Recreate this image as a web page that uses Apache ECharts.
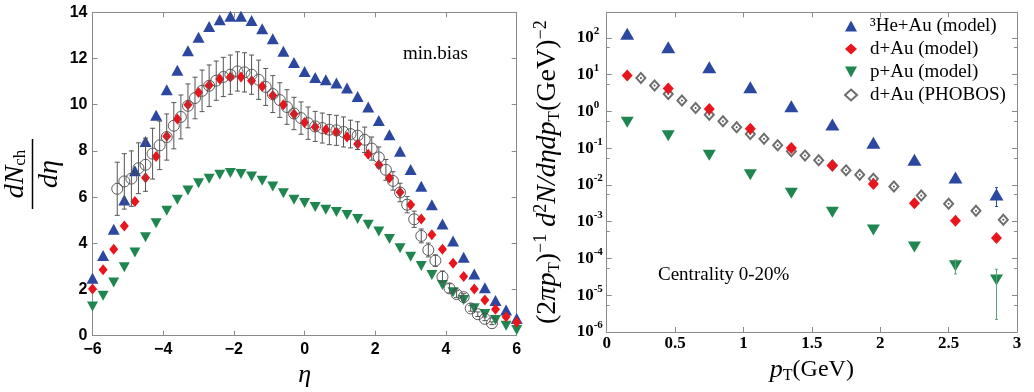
<!DOCTYPE html>
<html>
<head>
<meta charset="utf-8">
<script src="https://cdn.jsdelivr.net/npm/echarts@6/dist/echarts.min.js"></script>
<style>
  html, body { margin: 0; padding: 0; background: #fff; }
  #chart { width: 1034px; height: 392px; }
</style>
</head>
<body>
<div id="chart"></div>
<script>
// ---- left panel: dNch/deta vs eta (min. bias) ----
const etaModel = [-6.0, -5.7, -5.4, -5.1, -4.8, -4.5, -4.2, -3.9, -3.6, -3.3, -3.0, -2.7, -2.4, -2.1,
  -1.8, -1.5, -1.2, -0.9, -0.6, -0.3, 0.0, 0.3, 0.6, 0.9, 1.2, 1.5, 1.8, 2.1, 2.4, 2.7, 3.0, 3.3,
  3.6, 3.9, 4.2, 4.5, 4.8, 5.1, 5.4, 5.7, 6.0];
const heAuEta = [2.49, 3.47, 4.61, 5.87, 7.14, 8.41, 9.54, 10.65, 11.49, 12.34, 12.92, 13.39, 13.68, 13.83,
  13.83, 13.64, 13.29, 12.86, 12.31, 11.83, 11.44, 11.18, 11.08, 10.94, 10.72, 10.36, 9.9, 9.32, 8.7, 7.98,
  7.2, 6.47, 5.67, 4.84, 4.1, 3.4, 2.67, 2.08, 1.52, 1.11, 0.75];
const dAuEta = [2.02, 2.85, 3.74, 4.75, 5.81, 6.84, 7.76, 8.63, 9.38, 10.0, 10.53, 10.84, 11.11, 11.2,
  11.2, 11.04, 10.79, 10.4, 10.0, 9.6, 9.23, 9.03, 8.92, 8.82, 8.6, 8.3, 7.86, 7.4, 6.83, 6.21,
  5.67, 5.05, 4.37, 3.74, 3.14, 2.56, 2.02, 1.55, 1.14, 0.82, 0.58];
const pAuEta = [1.26, 1.73, 2.3, 2.96, 3.6, 4.26, 4.87, 5.41, 5.88, 6.29, 6.6, 6.79, 6.97, 7.04,
  7.0, 6.89, 6.71, 6.46, 6.17, 5.88, 5.74, 5.57, 5.45, 5.35, 5.23, 5.05, 4.8, 4.51, 4.19, 3.79,
  3.42, 3.02, 2.63, 2.2, 1.88, 1.55, 1.19, 0.94, 0.68, 0.43, 0.25];

const etaPhobos = [-5.3, -5.1, -4.9, -4.7, -4.5, -4.3, -4.1, -3.9, -3.7, -3.5, -3.3, -3.1, -2.9, -2.7,
  -2.5, -2.3, -2.1, -1.9, -1.7, -1.5, -1.3, -1.1, -0.9, -0.7, -0.5, -0.3, -0.1, 0.1, 0.3, 0.5, 0.7,
  0.9, 1.1, 1.3, 1.5, 1.7, 1.9, 2.1, 2.3, 2.5, 2.7, 2.9, 3.1, 3.3, 3.5, 3.7, 3.9, 4.1, 4.3, 4.5,
  4.7, 4.9, 5.1, 5.3];
const phobosEta = [6.36, 6.68, 6.8, 7.25, 7.4, 7.88, 8.24, 8.6, 9.09, 9.47, 9.95, 10.29, 10.6, 10.82,
  11.04, 11.2, 11.3, 11.44, 11.4, 11.3, 11.08, 10.77, 10.46, 10.2, 9.9, 9.62, 9.42, 9.2, 9.06, 8.99,
  8.92, 8.89, 8.82, 8.73, 8.66, 8.48, 8.1, 7.72, 7.18, 6.7, 6.2, 5.67, 5.04, 4.32, 3.71, 3.25, 2.55,
  2.05, 1.8, 1.67, 1.18, 0.93, 0.73, 0.54];
const phobosErr = [1.15, 1.2, 1.2, 1.1, 1.15, 1.1, 1.05, 1.0, 1.0, 0.95, 0.95, 0.9, 0.9, 0.9,
  0.85, 0.85, 0.85, 0.85, 0.85, 0.85, 0.85, 0.8, 0.8, 0.75, 0.75, 0.7, 0.7, 0.7, 0.65, 0.65,
  0.65, 0.65, 0.65, 0.6, 0.6, 0.55, 0.5, 0.45, 0.45, 0.4, 0.4, 0.35, 0.35, 0.3, 0.3, 0.25, 0.25,
  0.2, 0.15, 0.15, 0.12, 0.1, 0.08, 0.06];

// ---- right panel: invariant yield vs pT (centrality 0-20%) ----
const ptModel = [0.15, 0.45, 0.75, 1.05, 1.35, 1.65, 1.95, 2.25, 2.55, 2.85];
const heAuPt = [130, 56, 16, 4.6, 1.38, 0.44, 0.14, 0.049, 0.016, 0.0055];
const dAuPt = [9.5, 4.2, 1.17, 0.34, 0.102, 0.034, 0.0107, 0.0032, 0.00106, 0.00036];
const pAuPt = [0.51, 0.22, 0.064, 0.019, 0.006, 0.0018, 0.0006, 0.000204, 0.000063, 0.000026];
const ptPhobos = [0.25, 0.35, 0.45, 0.55, 0.65, 0.75, 0.85, 0.95, 1.05, 1.15, 1.25, 1.35, 1.45,
  1.55, 1.65, 1.75, 1.85, 1.95, 2.1, 2.3, 2.5, 2.7, 2.9];
const phobosPt = [8.2, 5.1, 3.0, 1.98, 1.25, 0.82, 0.54, 0.37, 0.245, 0.18, 0.12, 0.083, 0.063,
  0.047, 0.034, 0.025, 0.019, 0.0148, 0.0091, 0.0052, 0.0031, 0.002, 0.00113];
const heErrPt = [2.85];
const heErrLo = [0.0026];
const heErrHi = [0.0085];
const pErrPt = [2.55, 2.85];
const pErrLo = [0.000038, 0.0000022];
const pErrHi = [0.000091, 0.000051];

const legendNames = ['³He+Au (model)', 'd+Au (model)', 'p+Au (model)', 'd+Au (PHOBOS)'];

const BLUE = '#2b479f';
const RED = '#e8161c';
const GREEN = '#1f8650';
const FRAME = '#8a8a8a';
const SERIF = 'Liberation Serif';
const SANS = 'Liberation Sans';
const DOWN = 'path://M0,0L10,0L5,9Z';

const pairs = (xs, ys) => xs.map((x, i) => [x, ys[i]]);

function errorBars(color, cap) {
  return function (params, api) {
    const x = api.value(0);
    const lo = api.coord([x, api.value(1)]);
    const hi = api.coord([x, api.value(2)]);
    const style = { stroke: color, lineWidth: 1 };
    return {
      type: 'group',
      children: [
        { type: 'line', shape: { x1: lo[0], y1: lo[1], x2: hi[0], y2: hi[1] }, style },
        { type: 'line', shape: { x1: lo[0] - cap, y1: lo[1], x2: lo[0] + cap, y2: lo[1] }, style },
        { type: 'line', shape: { x1: hi[0] - cap, y1: hi[1], x2: hi[0] + cap, y2: hi[1] }, style }
      ]
    };
  };
}

const frameLine = { show: true, onZero: false, lineStyle: { color: FRAME, width: 1 } };
const tickIn = { show: true, inside: true, length: 5, lineStyle: { color: FRAME } };

const chart = echarts.init(document.getElementById('chart'));

chart.setOption({
  animation: false,
  backgroundColor: '#fff',
  grid: [
    { left: 92.5, top: 12.3, width: 424.2, height: 323.4, outerBoundsMode: 'none' },
    { left: 606.7, top: 12.3, width: 410.3, height: 319.7, outerBoundsMode: 'none' }
  ],
  xAxis: [
    {
      type: 'value', gridIndex: 0, min: -6, max: 6, interval: 2, position: 'bottom',
      axisLine: frameLine, axisTick: tickIn, splitLine: { show: false },
      axisLabel: {
        formatter: (v) => (v < 0 ? '\u2212' + (-v) : String(v)),
        fontFamily: SANS, fontWeight: 'bold', fontSize: 16, color: '#000', margin: 6
      },
      name: 'η', nameLocation: 'middle', nameGap: 16,
      nameTextStyle: { fontFamily: SERIF, fontStyle: 'italic', fontSize: 26, color: '#000' }
    },
    {
      type: 'value', gridIndex: 0, min: -6, max: 6, interval: 2, position: 'top',
      axisLine: frameLine, axisTick: tickIn, axisLabel: { show: false }, splitLine: { show: false }
    },
    {
      type: 'value', gridIndex: 1, min: 0, max: 3, interval: 0.5, position: 'bottom',
      axisLine: frameLine, axisTick: tickIn, splitLine: { show: false },
      axisLabel: { fontFamily: SERIF, fontWeight: 'bold', fontSize: 17, color: '#000', margin: 3 },
      name: '{i|p}{sb|T}{r|(GeV)}', nameLocation: 'middle', nameGap: 23,
      nameTextStyle: {
        rich: {
          i: { fontFamily: SERIF, fontStyle: 'italic', fontSize: 26, lineHeight: 28, color: '#000' },
          sb: { fontFamily: SERIF, fontSize: 16, lineHeight: 16, verticalAlign: 'bottom', color: '#000' },
          r: { fontFamily: SERIF, fontSize: 24, lineHeight: 28, color: '#000' }
        }
      }
    },
    {
      type: 'value', gridIndex: 1, min: 0, max: 3, interval: 0.5, position: 'top',
      axisLine: frameLine, axisTick: tickIn, axisLabel: { show: false }, splitLine: { show: false }
    }
  ],
  yAxis: [
    {
      type: 'value', gridIndex: 0, min: 0, max: 14, interval: 2, position: 'left',
      axisLine: frameLine, axisTick: tickIn, splitLine: { show: false },
      axisLabel: { fontFamily: SANS, fontWeight: 'bold', fontSize: 16, color: '#000', margin: 5 },
      name: '{n|dN}{s|ch}\n{bar|}\n{n|dη}', nameLocation: 'middle', nameRotate: 90, nameGap: 29,
      nameTextStyle: {
        rich: {
          n: { fontFamily: SERIF, fontStyle: 'italic', fontSize: 28, lineHeight: 28, color: '#000' },
          s: { fontFamily: SERIF, fontSize: 17, lineHeight: 17, verticalAlign: 'bottom', color: '#000' },
          bar: { width: 70, height: 1.5, lineHeight: 6, backgroundColor: '#000' }
        }
      }
    },
    {
      type: 'value', gridIndex: 0, min: 0, max: 14, interval: 2, position: 'right',
      axisLine: frameLine, axisTick: tickIn, axisLabel: { show: false }, splitLine: { show: false }
    },
    {
      type: 'log', gridIndex: 1, min: 1e-6, max: 500, logBase: 10, splitNumber: 9, position: 'left',
      axisLine: frameLine, axisTick: tickIn, splitLine: { show: false },
      minorTick: { show: true, splitNumber: 2, length: 3, lineStyle: { color: FRAME } },
      axisLabel: {
        align: 'left', margin: 30, showMaxLabel: false,
        formatter: (v) => {
          const e = Math.log10(v);
          const r = Math.round(e);
          if (Math.abs(e - r) > 1e-6) return '';
          return '{b|10}{s|' + r + '}';
        },
        rich: {
          b: { fontFamily: SERIF, fontWeight: 'bold', fontSize: 17, lineHeight: 24, color: '#000' },
          s: { fontFamily: SERIF, fontWeight: 'bold', fontSize: 11, lineHeight: 12, verticalAlign: 'top', color: '#000' }
        }
      },
      name: '{r|(2}{i|πp}{sb|T}{r|)}{sp|−1}{i| d}{sp|2}{i|N/dηdp}{sb|T}{r|(GeV)}{sp|−2}',
      nameLocation: 'middle', nameRotate: 90, nameGap: 44,
      nameTextStyle: {
        rich: {
          r: { fontFamily: SERIF, fontSize: 28, lineHeight: 30, color: '#000' },
          i: { fontFamily: SERIF, fontStyle: 'italic', fontSize: 28, lineHeight: 30, color: '#000' },
          sb: { fontFamily: SERIF, fontSize: 17, lineHeight: 17, verticalAlign: 'bottom', color: '#000' },
          sp: { fontFamily: SERIF, fontSize: 18, lineHeight: 18, verticalAlign: 'top', color: '#000' }
        }
      }
    },
    {
      type: 'log', gridIndex: 1, min: 1e-6, max: 500, logBase: 10, splitNumber: 9, position: 'right',
      axisLine: frameLine, axisTick: tickIn, axisLabel: { show: false }, splitLine: { show: false },
      minorTick: { show: true, splitNumber: 2, length: 3, lineStyle: { color: FRAME } }
    }
  ],
  legend: {
    orient: 'vertical', left: 844, top: 16, padding: 0, itemGap: 3,
    itemWidth: 12, itemHeight: 11,
    textStyle: { fontFamily: SERIF, fontSize: 19, lineHeight: 20, color: '#000', padding: [0, 0, 0, 8] },
    data: legendNames
  },
  graphic: [
    { type: 'text', left: 403, top: 45, style: { text: 'min.bias', font: '19px "Liberation Serif"', fill: '#000' } },
    { type: 'text', left: 658, top: 266, style: { text: 'Centrality 0-20%', font: '19px "Liberation Serif"', fill: '#000' } }
  ],
  series: [
    // right panel first so the legend picks these symbols
    {
      name: legendNames[0], type: 'scatter', xAxisIndex: 2, yAxisIndex: 2,
      symbol: 'triangle', symbolSize: [14, 12], itemStyle: { color: BLUE, opacity: 1 },
      data: pairs(ptModel, heAuPt)
    },
    {
      name: legendNames[1], type: 'scatter', xAxisIndex: 2, yAxisIndex: 2,
      symbol: 'diamond', symbolSize: [11, 12], itemStyle: { color: RED, opacity: 1 }, z: 4,
      data: pairs(ptModel, dAuPt)
    },
    {
      name: legendNames[2], type: 'scatter', xAxisIndex: 2, yAxisIndex: 2,
      symbol: DOWN, symbolSize: [13, 11], symbolKeepAspect: false, itemStyle: { color: GREEN, opacity: 1 },
      data: pairs(ptModel, pAuPt)
    },
    {
      name: legendNames[3], type: 'scatter', xAxisIndex: 2, yAxisIndex: 2,
      symbol: 'emptyDiamond', symbolSize: [9, 10], itemStyle: { color: '#6e6e6e', borderWidth: 1, opacity: 1 },
      data: pairs(ptPhobos, phobosPt)
    },
    {
      type: 'scatter', xAxisIndex: 2, yAxisIndex: 2, silent: true,
      symbol: 'circle', symbolSize: 2, itemStyle: { color: '#555', opacity: 1 },
      data: pairs(ptPhobos, phobosPt)
    },
    {
      type: 'custom', xAxisIndex: 2, yAxisIndex: 2, silent: true, z: 5,
      renderItem: errorBars(BLUE, 1.5), encode: { x: 0, y: [1, 2] },
      data: heErrPt.map((x, i) => [x, heErrLo[i], heErrHi[i]])
    },
    {
      type: 'custom', xAxisIndex: 2, yAxisIndex: 2, silent: true, z: 5,
      renderItem: errorBars('#5aa27c', 1.5), encode: { x: 0, y: [1, 2] },
      data: pErrPt.map((x, i) => [x, pErrLo[i], pErrHi[i]])
    },

    // left panel
    {
      name: '³He+Au η', type: 'scatter', xAxisIndex: 0, yAxisIndex: 0,
      symbol: 'triangle', symbolSize: [12, 11], itemStyle: { color: BLUE, opacity: 1 },
      data: pairs(etaModel, heAuEta)
    },
    {
      name: 'p+Au η', type: 'scatter', xAxisIndex: 0, yAxisIndex: 0,
      symbol: DOWN, symbolSize: [11, 10], symbolKeepAspect: false, itemStyle: { color: GREEN, opacity: 1 },
      data: pairs(etaModel, pAuEta)
    },
    {
      name: 'PHOBOS η', type: 'scatter', xAxisIndex: 0, yAxisIndex: 0,
      symbol: 'circle', symbolSize: 11,
      itemStyle: { color: 'rgba(0,0,0,0)', borderColor: '#4a4a4a', borderWidth: 0.9, opacity: 1 },
      data: pairs(etaPhobos, phobosEta)
    },
    {
      name: 'd+Au η', type: 'scatter', xAxisIndex: 0, yAxisIndex: 0,
      symbol: 'diamond', symbolSize: [9, 11], itemStyle: { color: RED, opacity: 1 },
      data: pairs(etaModel, dAuEta)
    },
    {
      type: 'custom', xAxisIndex: 0, yAxisIndex: 0, silent: true, z: 3,
      renderItem: errorBars('#555', 2.5), encode: { x: 0, y: [1, 2] },
      data: etaPhobos.map((x, i) => [x, phobosEta[i] - phobosErr[i], phobosEta[i] + phobosErr[i]])
    }
  ]
});

window.addEventListener('resize', () => chart.resize());
</script>
</body>
</html>
